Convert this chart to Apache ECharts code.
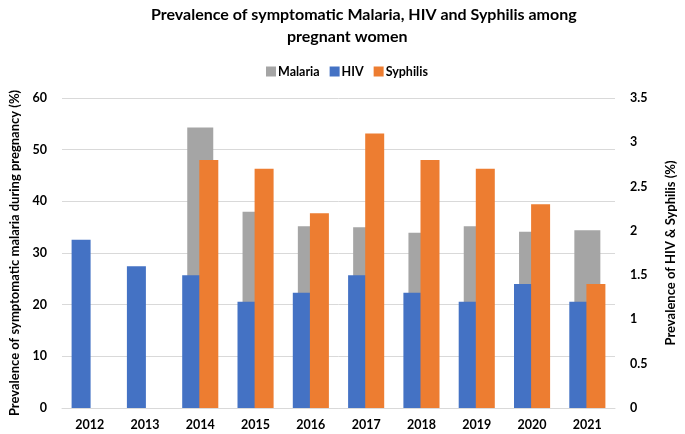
<!DOCTYPE html>
<html>
<head>
<meta charset="utf-8">
<script src="https://cdn.jsdelivr.net/npm/echarts@6/dist/echarts.min.js"></script>
<style>html,body{margin:0;padding:0;background:#fff;}#c{width:685px;height:434px;}</style>
</head>
<body>
<div id="c"></div>
<script>
var years = ['2012','2013','2014','2015','2016','2017','2018','2019','2020','2021'];
var malaria = [null, null, 54.3, 38.0, 35.2, 35.0, 33.9, 35.2, 34.1, 34.4];
var hiv = [1.9, 1.6, 1.5, 1.2, 1.3, 1.5, 1.3, 1.2, 1.4, 1.2];
var syphilis = [null, null, 2.8, 2.7, 2.2, 3.1, 2.8, 2.7, 2.3, 1.4];
var leftTicks = {min: 0, max: 60, interval: 10};
var rightTicks = {min: 0, max: 3.5, interval: 0.5};

var FONT = 'Lato';
var titleStyle = {fontFamily: FONT, fontWeight: 'bold', fontSize: 16, color: '#000'};
var chart = echarts.init(document.getElementById('c'), null, {renderer: 'canvas'});
chart.setOption({
  animation: false,
  backgroundColor: '#fff',
  title: [
    {text: 'Prevalence of symptomatic Malaria, HIV and Syphilis among', left: 146, top: 2, textStyle: titleStyle},
    {text: 'pregnant women', left: 282, top: 24, textStyle: titleStyle}
  ],
  legend: {
    data: ['Malaria', 'HIV', 'Syphilis'],
    top: 60, left: 261,
    itemWidth: 10, itemHeight: 10, itemGap: 10,
    icon: 'rect',
    textStyle: {fontFamily: FONT, fontWeight: 'bold', fontSize: 12.5, color: '#000', padding: [0, 0, 0, -3]}
  },
  grid: {left: 59, right: 57, top: 98, bottom: 26, containLabel: false},
  xAxis: [
    {
      type: 'category', data: years,
      axisLine: {show: true, lineStyle: {color: '#d9d9d9', width: 1}},
      axisTick: {show: false},
      axisLabel: {fontFamily: FONT, fontWeight: 'bold', fontSize: 12.5, color: '#000', margin: 10}
    },
    {
      type: 'category', data: years, show: false, position: 'bottom'
    }
  ],
  yAxis: [
    {
      type: 'value', min: leftTicks.min, max: leftTicks.max, interval: leftTicks.interval,
      name: 'Prevalence of symptomatic malaria during pregnancy (%)',
      nameLocation: 'middle', nameGap: 41, nameRotate: 90,
      nameTextStyle: {fontFamily: FONT, fontWeight: 'bold', fontSize: 13, color: '#000'},
      axisLine: {show: false}, axisTick: {show: false},
      axisLabel: {fontFamily: FONT, fontWeight: 'bold', fontSize: 12.5, color: '#000', margin: 15},
      splitLine: {lineStyle: {color: '#d9d9d9', width: 1}}
    },
    {
      type: 'value', min: rightTicks.min, max: rightTicks.max, interval: rightTicks.interval,
      name: 'Prevalence of HIV & Syphilis (%)',
      nameLocation: 'middle', nameGap: 49, nameRotate: 90,
      nameTextStyle: {fontFamily: FONT, fontWeight: 'bold', fontSize: 13, color: '#000'},
      axisLine: {show: false}, axisTick: {show: false},
      axisLabel: {fontFamily: FONT, fontWeight: 'bold', fontSize: 12.5, color: '#000', margin: 15},
      splitLine: {show: false}
    }
  ],
  series: [
    {
      name: 'Malaria', type: 'bar', data: malaria, xAxisIndex: 1, yAxisIndex: 0,
      barWidth: 26, itemStyle: {color: '#a5a5a5'}
    },
    {
      name: 'HIV', type: 'bar', data: hiv, xAxisIndex: 0, yAxisIndex: 1,
      barWidth: 19, barGap: '-10%', itemStyle: {color: '#4472c4'}
    },
    {
      name: 'Syphilis', type: 'bar', data: syphilis, xAxisIndex: 0, yAxisIndex: 1,
      barWidth: 19, barGap: '-10%', itemStyle: {color: '#ed7d31'}
    }
  ]
});
</script>
</body>
</html>
